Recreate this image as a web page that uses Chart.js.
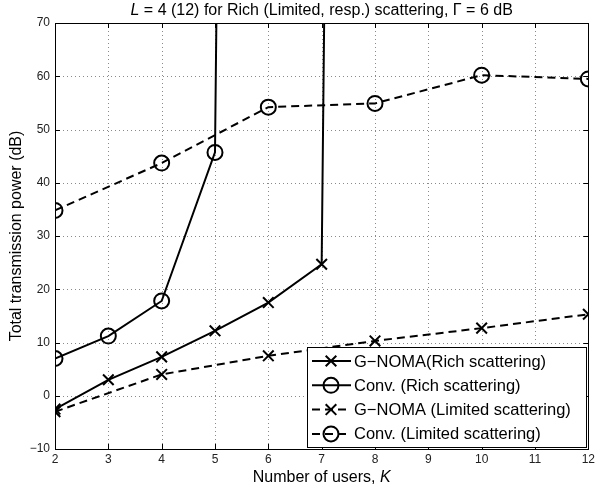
<!DOCTYPE html>
<html>
<head>
<meta charset="utf-8">
<script src="https://cdn.jsdelivr.net/npm/chart.js@4.4.0/dist/chart.umd.min.js"></script>
<style>
  html, body { margin: 0; padding: 0; background: #fff; }
  #wrap { width: 598px; height: 490px; }
</style>
</head>
<body>
<div id="wrap"><canvas id="chart" width="598" height="490"></canvas></div>
<script>
// data (K = number of users, values in dB)
// 1000 marks the point where the scheme becomes infeasible (power blows up)
const gnomaRichK = [2, 3, 4, 5, 6, 7, 8];
const gnomaRichP = [-2.5, 3, 7.3, 12.2, 17.5, 24.7, 1000];
const convRichK = [2, 3, 4, 5, 6];
const convRichP = [7, 11.2, 17.8, 45.7, 1000];
const limitedK = [2, 4, 6, 8, 10, 12];
const gnomaLimitedP = [-3, 4, 7.5, 10.3, 12.7, 15.3];
const convLimitedP = [34.8, 43.7, 54.2, 54.9, 60.2, 59.5];

const xTicks = [2, 3, 4, 5, 6, 7, 8, 9, 10, 11, 12];
const yTicks = [-10, 0, 10, 20, 30, 40, 50, 60, 70];

const FONT = '"Liberation Sans", Arial, sans-serif';

function pts(xs, ys) {
  return xs.map((x, i) => ({ x: x, y: ys[i] }));
}

// dotted grid, box, inward ticks, legend and titles
const matlabLook = {
  id: 'matlabLook',
  beforeDatasetsDraw(chart) {
    const { ctx, chartArea: a, scales: { x, y } } = chart;
    ctx.save();
    ctx.strokeStyle = '#8a8a8a';
    ctx.lineWidth = 1;
    ctx.setLineDash([1, 3]);
    xTicks.forEach(v => {
      const px = Math.round(x.getPixelForValue(v)) + 0.5;
      if (v === xTicks[0] || v === xTicks[xTicks.length - 1]) return;
      ctx.beginPath(); ctx.moveTo(px, a.top); ctx.lineTo(px, a.bottom); ctx.stroke();
    });
    yTicks.forEach(v => {
      const py = Math.round(y.getPixelForValue(v)) + 0.5;
      if (v === yTicks[0] || v === yTicks[yTicks.length - 1]) return;
      ctx.beginPath(); ctx.moveTo(a.left, py); ctx.lineTo(a.right, py); ctx.stroke();
    });
    ctx.restore();
  },
  afterDraw(chart) {
    const { ctx, chartArea: a, scales: { x, y } } = chart;
    ctx.save();
    ctx.strokeStyle = '#000';
    ctx.lineWidth = 1;
    ctx.setLineDash([]);
    // inward ticks
    const tl = 5;
    xTicks.forEach(v => {
      const px = Math.round(x.getPixelForValue(v)) + 0.5;
      ctx.beginPath();
      ctx.moveTo(px, a.bottom); ctx.lineTo(px, a.bottom - tl);
      ctx.moveTo(px, a.top); ctx.lineTo(px, a.top + tl);
      ctx.stroke();
    });
    yTicks.forEach(v => {
      const py = Math.round(y.getPixelForValue(v)) + 0.5;
      ctx.beginPath();
      ctx.moveTo(a.left, py); ctx.lineTo(a.left + tl, py);
      ctx.moveTo(a.right, py); ctx.lineTo(a.right - tl, py);
      ctx.stroke();
    });
    // axes box
    ctx.strokeRect(Math.round(a.left) + 0.5, Math.round(a.top) + 0.5,
      Math.round(a.right - a.left), Math.round(a.bottom - a.top));

    // legend
    const lx = 307, ly = 347, lw = 279, lh = 100;
    ctx.fillStyle = '#fff';
    ctx.fillRect(lx, ly, lw, lh);
    ctx.strokeRect(lx + 0.5, ly + 0.5, lw, lh);
    ctx.font = '16.5px ' + FONT;
    ctx.textBaseline = 'middle';
    ctx.textAlign = 'left';
    chart.data.datasets.forEach((ds, i) => {
      const cy = ly + 14 + i * 24.3;
      ctx.save();
      ctx.strokeStyle = '#000';
      ctx.fillStyle = 'rgba(0,0,0,0)';
      ctx.lineWidth = ds.borderWidth;
      ctx.setLineDash(ds.borderDash || []);
      ctx.beginPath(); ctx.moveTo(lx + 5, cy); ctx.lineTo(lx + 44, cy); ctx.stroke();
      ctx.setLineDash([]);
      ctx.lineWidth = ds.pointBorderWidth;
      Chart.helpers.drawPoint(ctx, {
        pointStyle: ds.pointStyle, radius: ds.pointRadius, rotation: 0,
        borderWidth: ds.pointBorderWidth
      }, lx + 24, cy);
      ctx.restore();
      ctx.fillStyle = '#000';
      ctx.fillText(ds.label, lx + 47, cy + 1);
    });

    // titles with italic symbols
    const drawRich = (parts, cx, cy) => {
      let w = 0;
      parts.forEach(p => { ctx.font = (p.i ? 'italic ' : '') + '16px ' + FONT; w += ctx.measureText(p.t).width; });
      let sx = cx - w / 2;
      parts.forEach(p => {
        ctx.font = (p.i ? 'italic ' : '') + '16px ' + FONT;
        ctx.fillText(p.t, sx, cy);
        sx += ctx.measureText(p.t).width;
      });
    };
    ctx.fillStyle = '#000';
    ctx.textAlign = 'left';
    ctx.textBaseline = 'middle';
    const mid = (a.left + a.right) / 2;
    drawRich([{ t: 'L', i: true }, { t: ' = 4 (12) for Rich (Limited, resp.) scattering, \u0393 = 6 dB' }], mid, 11);
    drawRich([{ t: 'Number of users, ' }, { t: 'K', i: true }], mid, 478);
    ctx.save();
    ctx.translate(17, (a.top + a.bottom) / 2);
    ctx.rotate(-Math.PI / 2);
    ctx.textAlign = 'center';
    ctx.font = '16px ' + FONT;
    ctx.fillText('Total transmission power (dB)', 0, 0);
    ctx.restore();
    ctx.restore();
  }
};

const solid = { borderColor: '#000', pointBorderColor: '#000', backgroundColor: 'rgba(0,0,0,0)',
  pointBackgroundColor: 'rgba(0,0,0,0)', borderWidth: 2, pointBorderWidth: 2, tension: 0 };

new Chart(document.getElementById('chart').getContext('2d'), {
  type: 'line',
  data: {
    datasets: [
      Object.assign({ label: 'G\u2212NOMA(Rich scattering)', data: pts(gnomaRichK, gnomaRichP),
        pointStyle: 'crossRot', pointRadius: 7.5 }, solid),
      Object.assign({ label: 'Conv. (Rich scattering)', data: pts(convRichK, convRichP),
        pointStyle: 'circle', pointRadius: 7.5 }, solid),
      Object.assign({ label: 'G\u2212NOMA (Limited scattering)', data: pts(limitedK, gnomaLimitedP),
        pointStyle: 'crossRot', pointRadius: 7.5, borderDash: [8, 5] }, solid),
      Object.assign({ label: 'Conv. (Limited scattering)', data: pts(limitedK, convLimitedP),
        pointStyle: 'circle', pointRadius: 7.5, borderDash: [8, 5] }, solid)
    ]
  },
  options: {
    responsive: false,
    animation: false,
    layout: { padding: { top: 23, right: 7, left: 0, bottom: 0 } },
    plugins: { legend: { display: false }, tooltip: { enabled: false }, title: { display: false } },
    scales: {
      x: {
        type: 'linear', min: 2, max: 12,
        afterBuildTicks: s => { s.ticks = xTicks.map(v => ({ value: v })); },
        afterFit: s => { s.height = 41; },
        grid: { display: false, drawTicks: false },
        border: { display: false },
        ticks: { color: '#222', font: { family: FONT, size: 12 }, padding: 3, maxRotation: 0 }
      },
      y: {
        type: 'linear', min: -10, max: 70,
        afterBuildTicks: s => { s.ticks = yTicks.map(v => ({ value: v })); },
        afterFit: s => { s.width = 55; },
        grid: { display: false, drawTicks: false },
        border: { display: false },
        ticks: { color: '#222', font: { family: FONT, size: 12 }, padding: 5,
          callback: v => String(v).replace('-', '\u2212') }
      }
    }
  },
  plugins: [matlabLook]
});
</script>
</body>
</html>
